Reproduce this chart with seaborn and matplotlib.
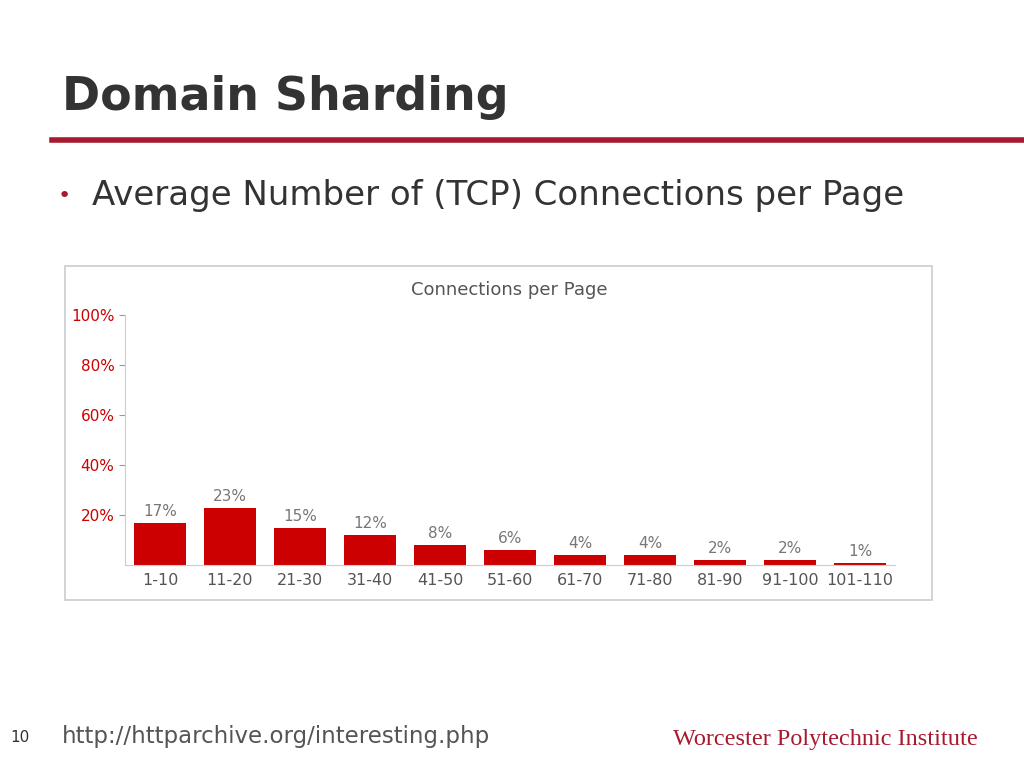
import matplotlib
matplotlib.use("Agg")
import matplotlib.pyplot as plt
import seaborn as sns
import pandas as pd
from matplotlib.patches import Rectangle

# Data
buckets = ["1-10", "11-20", "21-30", "31-40", "41-50", "51-60",
           "61-70", "71-80", "81-90", "91-100", "101-110"]
percent = [17, 23, 15, 12, 8, 6, 4, 4, 2, 2, 1]
yticks = [20, 40, 60, 80, 100]

df = pd.DataFrame({"bucket": buckets, "pct": percent})

fig = plt.figure(figsize=(10.24, 7.68), dpi=100)
fig.patch.set_facecolor("white")

# slide title and rule
fig.text(62/1024, 1 - 98/768, "Domain Sharding", fontsize=33, fontweight="bold",
         color="#333333", va="center", family="DejaVu Sans")
fig.add_artist(plt.Line2D([52/1024, 1], [1 - 140/768] * 2, color="#a6192e", lw=4))
fig.text(58/1024, 1 - 196/768, "•", fontsize=16, color="#a6192e", va="center")
fig.text(92/1024, 1 - 196/768, "Average Number of (TCP) Connections per Page",
         fontsize=24.5, color="#333333", va="center")

# chart frame
fig.add_artist(Rectangle((65/1024, 1 - 600/768), 867/1024, 334/768,
                         transform=fig.transFigure, fill=False,
                         edgecolor="#cccccc", lw=1.2))
fig.text(509/1024, 1 - 290/768, "Connections per Page", fontsize=13,
         color="#555555", ha="center", va="center")

ax = fig.add_axes([125/1024, 1 - 565/768, 770/1024, 250/768])
sns.barplot(data=df, x="bucket", y="pct", color="#cc0000", saturation=1,
            width=0.75, ax=ax)
ax.set_ylim(0, 100)
ax.set_xlim(-0.5, len(buckets) - 0.5)
ax.set_yticks(yticks)
ax.set_yticklabels([f"{v}%" for v in yticks], color="#cc0000", fontsize=11)
ax.tick_params(axis="y", length=4, color="#999999")
ax.tick_params(axis="x", length=0, labelsize=11.5, labelcolor="#555555", pad=6)
ax.set_xlabel("")
ax.set_ylabel("")
for s in ["top", "right"]:
    ax.spines[s].set_visible(False)
ax.spines["left"].set_color("#cccccc")
ax.spines["bottom"].set_color("#cccccc")
for i, v in enumerate(percent):
    ax.text(i, v + 1.5, f"{v}%", ha="center", va="bottom", fontsize=11, color="#777777")

# footer
fig.text(10/1024, 1 - 738/768, "10", fontsize=11, color="#333333", va="center")
fig.text(62/1024, 1 - 737/768, "http://httparchive.org/interesting.php",
         fontsize=16.5, color="#555555", va="center")
fig.text(978/1024, 1 - 739/768, "Worcester Polytechnic Institute", fontsize=17.5,
         color="#a6192e", ha="right", va="center", family="Liberation Serif")

fig.savefig("out.png", dpi=100)
